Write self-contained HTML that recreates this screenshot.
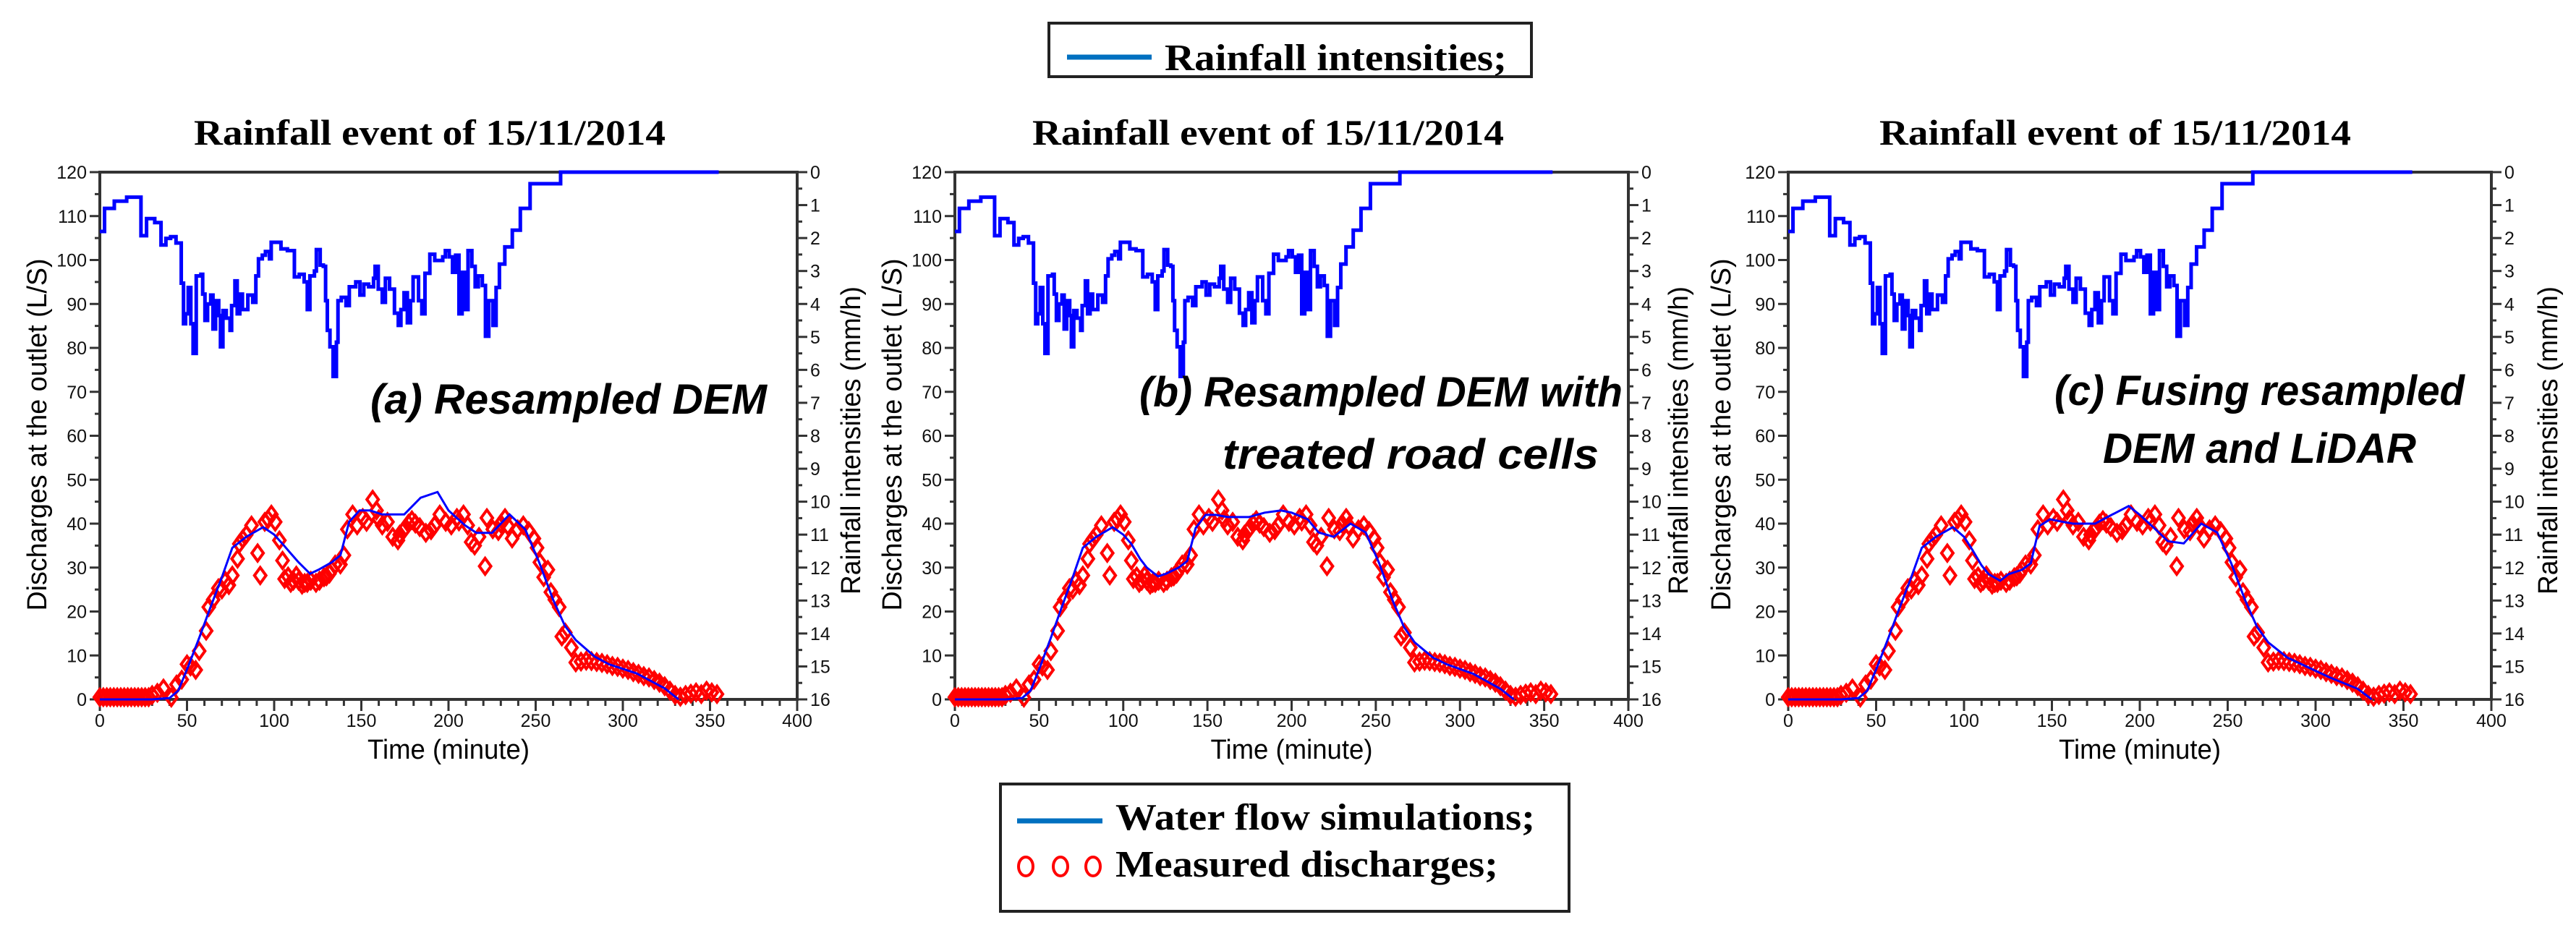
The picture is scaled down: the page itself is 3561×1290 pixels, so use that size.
<!DOCTYPE html>
<html><head><meta charset="utf-8"><title>Rainfall event charts</title>
<style>
html,body{margin:0;padding:0;background:#fff;}
svg{display:block;}
.tick{font-family:"Liberation Sans",Arial,sans-serif;font-size:25px;fill:#111;}
.axt{font-family:"Liberation Sans",Arial,sans-serif;font-size:38px;fill:#000;}
.ttl{font-family:"Liberation Serif","Times New Roman",serif;font-weight:bold;font-size:50px;fill:#000;}
.ann{font-family:"Liberation Sans",Arial,sans-serif;font-weight:bold;font-style:italic;font-size:58px;fill:#000;}
.leg{font-family:"Liberation Serif","Times New Roman",serif;font-weight:bold;font-size:52px;fill:#000;}
</style></head>
<body>
<svg id="chart" width="3561" height="1290" viewBox="0 0 3561 1290" xmlns="http://www.w3.org/2000/svg">
<g>
  <rect x="1450" y="32" width="667" height="74" fill="#fff" stroke="#222" stroke-width="4"/>
  <line x1="1475" y1="79" x2="1592" y2="79" stroke="#0070c0" stroke-width="7"/>
  <text class="leg" x="1610" y="97" textLength="473" lengthAdjust="spacingAndGlyphs">Rainfall intensities;</text>
</g>
<g>
  <rect x="1383" y="1084" width="786" height="176" fill="#fff" stroke="#222" stroke-width="4"/>
  <line x1="1406" y1="1135" x2="1524" y2="1135" stroke="#0070c0" stroke-width="7"/>
  <text class="leg" x="1542" y="1147" textLength="580" lengthAdjust="spacingAndGlyphs">Water flow simulations;</text>
  <ellipse cx="1418" cy="1198" rx="10" ry="13" fill="none" stroke="#ff0000" stroke-width="4"/>
  <ellipse cx="1466" cy="1198" rx="10" ry="13" fill="none" stroke="#ff0000" stroke-width="4"/>
  <ellipse cx="1511" cy="1198" rx="10" ry="13" fill="none" stroke="#ff0000" stroke-width="4"/>
  <text class="leg" x="1542" y="1212" textLength="529" lengthAdjust="spacingAndGlyphs">Measured discharges;</text>
</g>
</svg>
<script>
// ---- data ----
const xTicks = [0,50,100,150,200,250,300,350,400];
const qTicks = [0,10,20,30,40,50,60,70,80,90,100,110,120];
const rTicks = [0,1,2,3,4,5,6,7,8,9,10,11,12,13,14,15,16];
const rainT = [0,2.7,8.3,15.4,23.6,26.8,31.5,35.1,37.9,40.6,43.7,46.7,48,49.2,50.7,52.2,53.5,55.3,58,59,60.3,61.8,63.6,64.9,66.4,68.2,69.2,70.6,72.5,74.7,75.6,77.5,78.8,80.3,81.8,84.9,87.7,89.5,91,93.2,95,97.3,98.3,103.9,107.6,111.6,114.4,117.2,119,120.5,123.1,124.2,126.4,128.2,129.5,130.5,132,133.8,135.7,136.6,138.5,141.2,143.1,146.8,149.2,151.4,154.2,157,157.9,159.7,162,163.8,166.2,169,171.2,172.7,174.5,176.4,178.2,179.7,182.8,184.7,186.5,189.3,192.1,196.7,198.2,200.4,202.3,204.1,206,207.8,209.7,211.2,213.4,215.3,217.1,219.4,221.2,223.1,225.5,227.3,229.2,232.3,236.6,241.2,246.8,264.3,355];
const rainV = [1.8,1.1,0.88,0.76,1.93,1.41,1.53,2.21,2.01,1.96,2.15,3.37,4.6,4.3,3.5,4.6,5.5,3.15,3.1,3.7,4.5,4.0,3.73,4.76,3.9,4.35,5.3,4.2,4.43,4.8,4.05,3.3,4.3,3.7,4.17,3.73,3.95,3.15,2.63,2.52,2.41,2.63,2.13,2.33,2.38,3.18,3.1,3.33,4.17,3.15,3.0,2.35,2.82,2.86,3.9,4.8,5.3,6.2,5.16,3.9,3.8,4.05,3.48,3.33,3.73,3.4,3.48,3.22,2.86,3.55,3.95,3.22,3.55,4.28,4.65,4.17,3.66,4.57,3.9,3.18,3.9,4.3,3.07,2.49,2.68,2.57,2.38,2.57,3.04,2.52,4.3,3.04,4.17,2.38,2.86,3.48,3.15,3.44,4.98,3.9,4.65,3.5,2.79,2.27,1.76,1.1,0.35,0,0];
const simT = [0,30,40,45,50.8,57,63.5,70,76,84,93.7,100,104.8,110,114,120.6,125.4,133,138,143,149,155,162,174.6,184,193.7,200,209.5,216,225,235,244,252,260,266.7,273,284,292,308,324,332];
const simA = [0,0,0.3,2,7.6,14,21,27.8,34.5,37,39.2,37.5,35.4,33,31.2,28.6,29.5,31.2,32.8,40.4,43,43,42.1,42.1,45.9,47.2,43,39.6,37.9,37.9,42.1,38.7,31.2,22.7,16.8,13.5,9.7,8,5.9,2.5,0];
const simB = [0,0,0.3,2,7.6,14,21,27.8,34.5,37,39.2,37.5,35.4,32,30,28,28.6,30,31.5,39,42,42,41.5,41.5,42.5,43,42.5,41,38,37,40,38,31,22.5,16.5,13,9.5,8,5.8,2.4,0];
const simC = [0,0,0.3,2,7.6,14,21,27.8,34.5,37,39.2,37,34,30.5,28.5,27,28.5,29.5,31,39.5,41,40.5,40,40,42,44,42,38.5,36,35.5,40,38,31,22.5,16.5,13,9.5,8,5,2.4,0];
const measT = [0,2,4,6,8,10,12,14,16,18,20,22,24,26,28,30,33,36.5,41,44,47,50,52,55,57,61,62.5,65,68,70,72,74,76,79,80,82,84,87,90.5,92,94.6,96.5,98.4,100.6,103,104.8,106,108,109.5,111,112.7,114,116,117.5,119,121,124,126,128.6,130,131.7,133,135,138,140,142,145,147.6,150.8,153,156.5,158.7,160,162,165,168,171,172,174.6,177,179,181,183.5,187,190,192,195,198.4,201.6,204.8,206,208.6,211,213,215,217.5,221,222,225.4,228.6,230,232.4,234,236.5,239.7,242.9,246,249,250.8,252.4,254.6,257,258.7,261,263.5,265,267,270.5,273,276,279,282,285,288,291,294,297,300,303,306,309,312,315,318,321,324,327,330,333,336,339,342,345,348,351,354];
const measV = [0.5,0.5,0.5,0.5,0.5,0.5,0.5,0.5,0.5,0.5,0.5,0.5,0.5,0.5,0.5,1,1.5,2.5,0.4,3.4,4.5,8,7.5,6.7,11,15.6,21,22.7,25.3,25,27,26,28.2,32,35.4,36.5,37.5,39.6,33.3,28.2,40.4,41,42.1,40.4,36.2,31.6,27.4,28,26.5,27,28.2,27,26.1,26.5,26.5,27,26.5,27,27.8,28,28.6,29.5,30.7,30.7,32.8,38.7,42.1,39.6,41.3,40.4,45.5,43,41,39.6,40.4,37,36.2,37.5,38.7,40,40.8,40,39.2,37.9,38.5,39.6,42.1,40.4,39.6,41.3,40.5,42.1,39.6,35.8,35,37,30.3,41.3,38.7,38.3,40,41.3,39.5,36.6,38.7,39.6,38.3,36.6,34.5,31.2,27.8,29.5,24.4,22.7,21,14.3,15.2,11.8,8.4,8.6,8.8,8.7,8.5,8.3,8,7.6,7.4,7,6.7,6.2,5.8,5.3,5,4.4,3.8,3,2,1,0.6,1,1.3,1.6,1.2,2,1.6,1.2];

const NS = 'http://www.w3.org/2000/svg';
const svg = document.getElementById('chart');
function mk(tag, attrs, parent){
  const e = document.createElementNS(NS, tag);
  for (const k in attrs) e.setAttribute(k, attrs[k]);
  (parent||svg).appendChild(e);
  return e;
}
const panels = [
  {id:'a', x0:138, x1:1102, sim:simA, ann:['(a) Resampled DEM'], annX:[512], annY:[572], annW:[548], titleX:594, leftLab:50, rightLab:1175},
  {id:'b', x0:1320, x1:2251, sim:simB, ann:['(b) Resampled DEM with','treated road cells'], annX:[1575,1690], annY:[562,648], annW:[668,520], titleX:1753, leftLab:1232, rightLab:2319},
  {id:'c', x0:2472, x1:3444, sim:simC, ann:['(c) Fusing resampled','DEM and LiDAR'], annX:[2840,2907], annY:[560,640], annW:[567,433], titleX:2924, leftLab:2378, rightLab:3521}
];
const TOP = 238, BOT = 967;
panels.forEach(p => {
  const g = mk('g', {});
  
  
  const xs = t => p.x0 + (t/400)*(p.x1-p.x0);
  const yq = q => BOT - (q/120)*(BOT-TOP);
  const yr = r => TOP + (r/16)*(BOT-TOP);
  const tt = mk('text', {class:'ttl', x:p.titleX, y:200, 'text-anchor':'middle', textLength:652, lengthAdjust:'spacingAndGlyphs'}, g);
  tt.textContent = 'Rainfall event of 15/11/2014';
  
  
  const fr = mk('rect', {x:p.x0, y:TOP, width:p.x1-p.x0, height:BOT-TOP, fill:'none', stroke:'#333', 'stroke-width':4}, g);
  
  
  const tg = mk('g', {stroke:'#333', 'stroke-width':3}, g);
  
  
  for (let t=0; t<=400; t+=10){
    const maj = t%50===0;
    mk('line', {x1:xs(t), x2:xs(t), y1:BOT, y2:BOT+(maj?16:9)}, tg);
  }
  xTicks.forEach(t => {
    const e = mk('text', {class:'tick', x:xs(t), y:1005, 'text-anchor':'middle'}, g);
    e.textContent = t;
    
    
  });
  for (let q=0; q<=120; q+=5){
    const maj = q%10===0;
    mk('line', {x1:p.x0-(maj?14:7), x2:p.x0, y1:yq(q), y2:yq(q)}, tg);
  }
  qTicks.forEach(q => {
    const e = mk('text', {class:'tick', x:p.x0-18, y:yq(q)+9, 'text-anchor':'end'}, g);
    e.textContent = q;
    
    
  });
  for (let r=0; r<=16; r+=0.5){
    const maj = r%1===0;
    mk('line', {x1:p.x1, x2:p.x1+(maj?14:7), y1:yr(r), y2:yr(r)}, tg);
  }
  rTicks.forEach(r => {
    const e = mk('text', {class:'tick', x:p.x1+18, y:yr(r)+9, 'text-anchor':'start'}, g);
    e.textContent = r;
    
    
  });
  const xt = mk('text', {class:'axt', x:(p.x0+p.x1)/2, y:1049, 'text-anchor':'middle', textLength:224, lengthAdjust:'spacingAndGlyphs'}, g);
  xt.textContent = 'Time (minute)';
  
  
  const yl = mk('text', {class:'axt', x:0, y:0, 'text-anchor':'middle', transform:`translate(${p.leftLab+14},601) rotate(-90)`, textLength:487, lengthAdjust:'spacingAndGlyphs'}, g);
  yl.textContent = 'Discharges at the outlet (L/S)';
  
  
  const yr2 = mk('text', {class:'axt', x:0, y:0, 'text-anchor':'middle', transform:`translate(${p.rightLab+14},609) rotate(-90)`, textLength:426, lengthAdjust:'spacingAndGlyphs'}, g);
  yr2.textContent = 'Rainfall intensities (mm/h)';
  
  
  let d = `M${xs(rainT[0])},${yr(rainV[0])}`;
  for (let i=1;i<rainT.length;i++){ d += ` H${xs(rainT[i])} V${yr(rainV[i])}`; }
  const rl = mk('path', {d, fill:'none', stroke:'#0000ff', 'stroke-width':5, 'stroke-linejoin':'miter'}, g);
  
  
  const mg = mk('g', {fill:'none', stroke:'#ff0000', 'stroke-width':4}, g);
  
  
  for (let i=0;i<measT.length;i++){
    const cx = xs(measT[i]), cy = yq(measV[i]);
    const pt = mk('polygon', {points:`${cx},${cy-11} ${cx+8},${cy} ${cx},${cy+11} ${cx-8},${cy}`}, mg);
    
    
  }
  const sd = simT.map((t,i)=>`${i?'L':'M'}${xs(t)},${yq(p.sim[i])}`).join(' ');
  const sl = mk('path', {d:sd, fill:'none', stroke:'#0000ff', 'stroke-width':3}, g);
  
  
  p.ann.forEach((s,i) => {
    const e = mk('text', {class:'ann', x:p.annX[i], y:p.annY[i], textLength:p.annW[i], lengthAdjust:'spacingAndGlyphs'}, g);
    e.textContent = s;
    
    
  });
});
</script>
</body></html>
